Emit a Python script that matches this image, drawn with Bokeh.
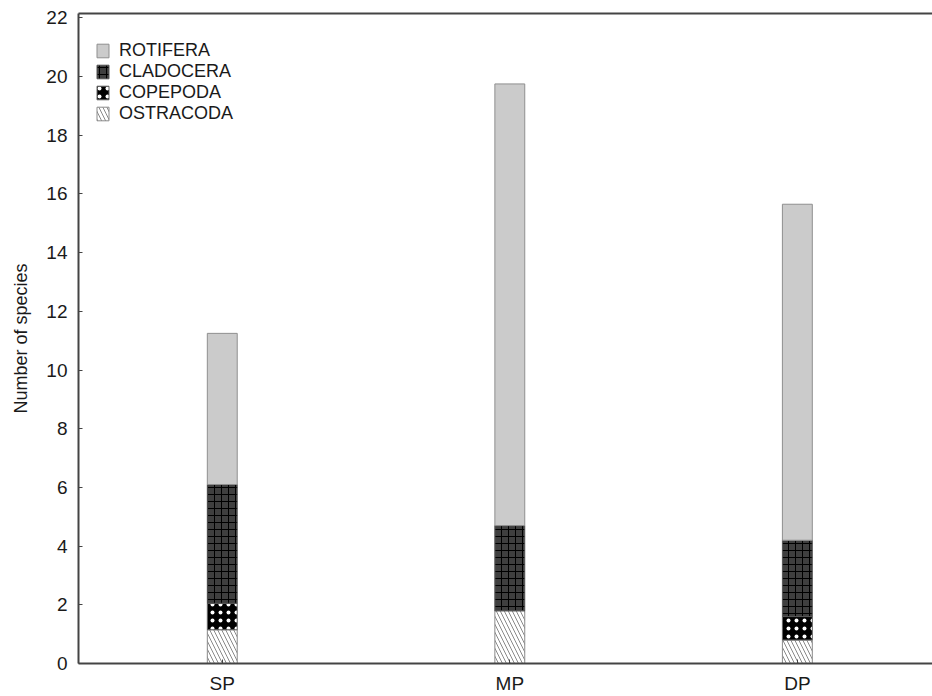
from bokeh.plotting import figure
from bokeh.models import (ColumnDataSource, Range1d, FixedTicker, LinearAxis,
                          Legend, LegendItem)
from bokeh.embed import file_html
from bokeh.resources import INLINE

categories = ["SP", "MP", "DP"]
positions = [0, 1, 2]
ostracoda = [1.15, 1.8, 0.8]
copepoda = [0.9, 0.0, 0.8]
cladocera = [4.05, 2.9, 2.6]
rotifera = [5.15, 15.05, 11.45]
y_ticks = list(range(0, 23, 2))

source = ColumnDataSource(dict(x=positions, OSTRACODA=ostracoda, COPEPODA=copepoda,
                               CLADOCERA=cladocera, ROTIFERA=rotifera))

FONT = "Liberation Sans"

p = figure(width=932, height=696, output_backend="svg", toolbar_location=None,
           x_range=Range1d(-0.5, 2.47), y_range=Range1d(0, 22.15),
           min_border_left=78, min_border_right=0, min_border_top=13, min_border_bottom=33)
p.outline_line_color = None
p.xgrid.visible = False
p.ygrid.visible = False
p.background_fill_color = "white"

stackers = ["OSTRACODA", "COPEPODA", "CLADOCERA", "ROTIFERA"]
renderers = p.vbar_stack(
    stackers, x="x", width=0.104, source=source,
    fill_color=["white", "black", "#3f3f3f", "#cbcbcb"],
    line_color=["#8a8a8a", "#666666", "#555555", "#8f8f8f"],
    line_width=1,
    hatch_pattern=["\\", ".", "+", " "],
    hatch_color=["#8a8a8a", "white", "black", "#cbcbcb"],
    hatch_scale=[8, 8, 7, 8],
    hatch_weight=[1, 1, 1, 1],
)

items = [LegendItem(label=name, renderers=[r]) for name, r in zip(stackers, renderers)]
items = items[::-1]
legend = Legend(items=items, location=(17, 539), padding=0, margin=0,
                spacing=0, glyph_width=15, glyph_height=17, label_height=17,
                label_standoff=9, label_text_font=FONT, label_text_font_size="18px",
                label_text_color="#1a1a1a", border_line_color=None,
                background_fill_alpha=0)
p.add_layout(legend, "center")

# left axis
ya = p.yaxis[0]
ya.ticker = FixedTicker(ticks=y_ticks)
ya.axis_label = "Number of species"
ya.axis_label_text_font = FONT
ya.axis_label_text_font_size = "18px"
ya.axis_label_text_font_style = "normal"
ya.axis_label_text_color = "#1a1a1a"
ya.axis_label_standoff = 12
ya.major_label_text_font = FONT
ya.major_label_text_font_size = "19px"
ya.major_label_text_color = "#1a1a1a"
ya.major_label_standoff = 11
ya.major_tick_in = 4
ya.major_tick_out = 0
ya.minor_tick_line_color = None
ya.axis_line_color = "#444444"
ya.axis_line_width = 2
ya.major_tick_line_color = "#444444"

# bottom axis
xa = p.xaxis[0]
xa.ticker = FixedTicker(ticks=positions)
xa.major_label_overrides = {pos: cat for pos, cat in zip(positions, categories)}
xa.major_label_text_font = FONT
xa.major_label_text_font_size = "19px"
xa.major_label_text_color = "#1a1a1a"
xa.major_label_standoff = 9
xa.major_tick_in = 4
xa.major_tick_out = 0
xa.minor_tick_line_color = None
xa.axis_line_color = "#444444"
xa.axis_line_width = 2
xa.major_tick_line_color = "#444444"

# top frame line
top = LinearAxis(ticker=FixedTicker(ticks=[]), axis_line_color="#444444", axis_line_width=2,
                 major_tick_line_color=None, minor_tick_line_color=None)
p.add_layout(top, "above")

open("out.html", "w").write(file_html(p, INLINE))
